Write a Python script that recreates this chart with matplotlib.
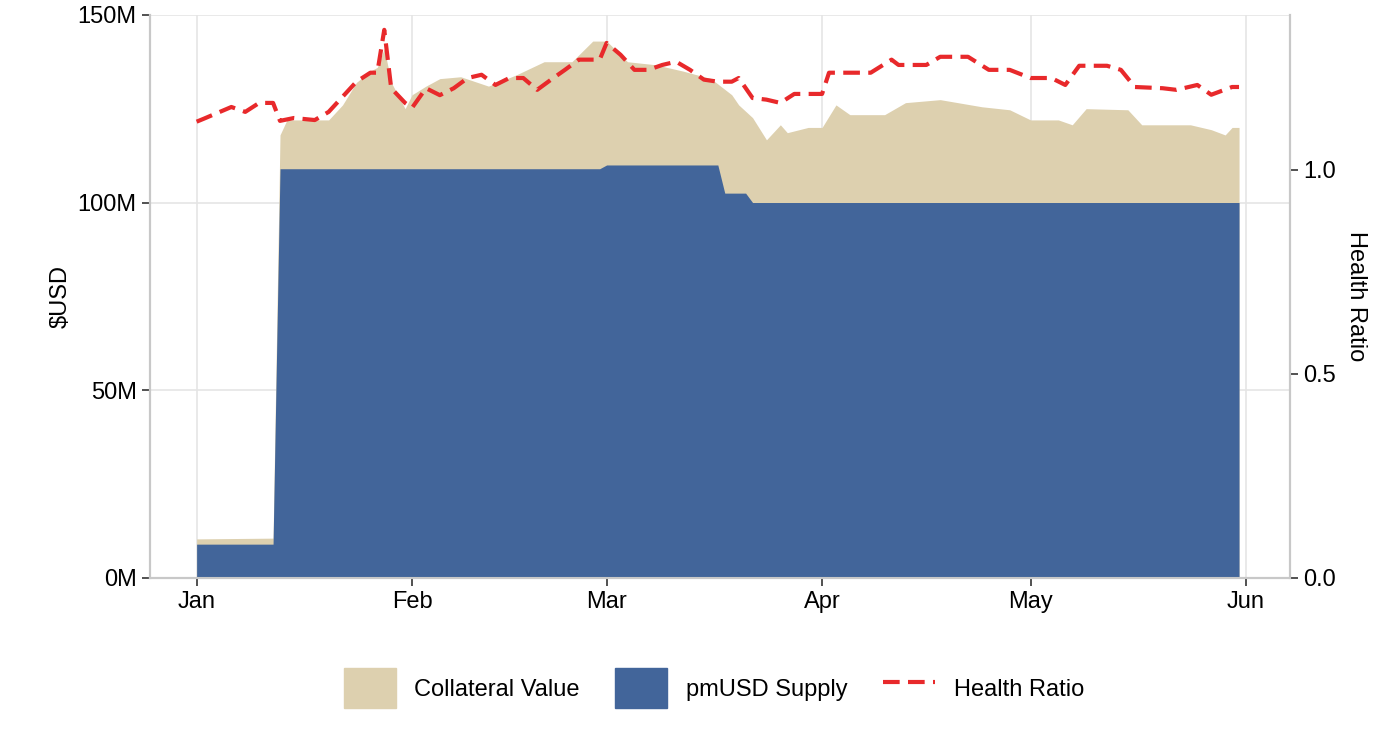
import matplotlib
matplotlib.use("Agg")
import matplotlib.pyplot as plt
import matplotlib.dates as mdates
import pandas as pd
from matplotlib.patches import Patch
from matplotlib.lines import Line2D

plt.rcParams['font.family'] = ['Liberation Sans', 'DejaVu Sans']

coll_dates = ["2025-01-01","2025-01-12","2025-01-13","2025-01-14","2025-01-20","2025-01-22","2025-01-24","2025-01-26","2025-01-27","2025-01-28","2025-01-29","2025-01-31","2025-02-01","2025-02-03","2025-02-05","2025-02-08","2025-02-12","2025-02-16","2025-02-20","2025-02-24","2025-02-27","2025-03-01","2025-03-04","2025-03-08","2025-03-12","2025-03-16","2025-03-19","2025-03-20","2025-03-22","2025-03-24","2025-03-26","2025-03-27","2025-03-30","2025-04-01","2025-04-03","2025-04-05","2025-04-10","2025-04-13","2025-04-18","2025-04-24","2025-04-28","2025-05-01","2025-05-05","2025-05-07","2025-05-09","2025-05-15","2025-05-17","2025-05-24","2025-05-27","2025-05-29","2025-05-30","2025-05-31"]
coll_vals = [10.4,10.6,118,122,122,126,132,135,136,141,132,125,128.7,131,133,133.5,131,134,137.5,137.5,143,143,137.5,136.7,135,133,128.7,126,122.6,116.7,120.7,118.6,120,120,126,123.4,123.4,126.6,127.4,125.5,124.7,122,122,120.7,125,124.7,120.7,120.7,119.4,118,120,120]

sup_dates = ["2025-01-01","2025-01-12","2025-01-13","2025-02-28","2025-03-01","2025-03-17","2025-03-18","2025-03-21","2025-03-22","2025-05-31"]
sup_vals = [9,9,109,109,110,110,102.5,102.5,100,100]

hr_dates = ["2025-01-01","2025-01-02","2025-01-06","2025-01-08","2025-01-10","2025-01-12","2025-01-13","2025-01-15","2025-01-18","2025-01-20","2025-01-22","2025-01-24","2025-01-26","2025-01-27","2025-01-28","2025-01-29","2025-01-31","2025-02-01","2025-02-03","2025-02-05","2025-02-07","2025-02-09","2025-02-11","2025-02-13","2025-02-15","2025-02-17","2025-02-19","2025-02-21","2025-02-23","2025-02-25","2025-02-28","2025-03-01","2025-03-03","2025-03-05","2025-03-07","2025-03-09","2025-03-11","2025-03-13","2025-03-15","2025-03-17","2025-03-19","2025-03-20","2025-03-22","2025-03-24","2025-03-26","2025-03-28","2025-04-01","2025-04-02","2025-04-08","2025-04-11","2025-04-12","2025-04-16","2025-04-18","2025-04-22","2025-04-25","2025-04-28","2025-05-01","2025-05-04","2025-05-06","2025-05-08","2025-05-12","2025-05-14","2025-05-16","2025-05-20","2025-05-22","2025-05-25","2025-05-27","2025-05-30","2025-05-31"]
hr_vals = [1.118,1.125,1.154,1.142,1.164,1.164,1.12,1.127,1.122,1.142,1.179,1.216,1.238,1.238,1.343,1.2,1.164,1.152,1.2,1.183,1.2,1.225,1.233,1.208,1.225,1.225,1.196,1.221,1.245,1.27,1.27,1.311,1.282,1.245,1.245,1.257,1.265,1.245,1.221,1.216,1.216,1.225,1.176,1.172,1.164,1.186,1.186,1.238,1.238,1.27,1.257,1.257,1.277,1.277,1.245,1.245,1.225,1.225,1.208,1.255,1.255,1.245,1.203,1.2,1.196,1.208,1.184,1.203,1.203]

beige = "#DDD0AF"
blue = "#42659A"
red = "#E8292B"

fig = plt.figure(figsize=(14, 7.4), dpi=100)
ax = fig.add_axes([150/1400, 0.219, 1140/1400, 0.761])
cd = pd.to_datetime(coll_dates); sd = pd.to_datetime(sup_dates); hd = pd.to_datetime(hr_dates)
ax.fill_between(cd, 0, coll_vals, color=beige, lw=0, zorder=2)
ax.fill_between(sd, 0, sup_vals, color=blue, lw=0, zorder=3)
ax.set_ylim(0, 150)
ax.set_xlim(pd.Timestamp("2024-12-25 07:00"), pd.Timestamp("2025-06-07 08:00"))
ax.set_yticks([0, 50, 100, 150])
ax.set_yticklabels(["0M", "50M", "100M", "150M"])
ax.xaxis.set_major_locator(mdates.MonthLocator())
ax.xaxis.set_major_formatter(mdates.DateFormatter("%b"))
ax.grid(True, color="#E5E5E5", lw=1.2, zorder=0)
ax.set_axisbelow(True)
ax.set_ylabel("$USD", fontsize=17)
for s in ["top"]:
    ax.spines[s].set_visible(False)
for s in ["left", "bottom", "right"]:
    ax.spines[s].set_color("#C8C8C8"); ax.spines[s].set_linewidth(1.5)
ax.tick_params(labelsize=17, color="#333333", length=6, width=1.2)

ax2 = ax.twinx()
ax2.plot(hd, hr_vals, color=red, lw=3, ls=(0, (4, 2)), zorder=5)
ax2.set_ylim(0, 563/408)
ax2.set_yticks([0, 0.5, 1.0])
ax2.set_yticklabels(["0.0", "0.5", "1.0"])
ax2.set_ylabel("Health Ratio", fontsize=17, rotation=270, labelpad=22)
ax2.spines["top"].set_visible(False)
for s in ["left", "bottom", "right"]:
    ax2.spines[s].set_color("#C8C8C8"); ax2.spines[s].set_linewidth(1.5)
ax2.tick_params(labelsize=17, color="#333333", length=6, width=1.2)

handles = [Patch(color=beige, label="Collateral Value"),
           Patch(color=blue, label="pmUSD Supply"),
           Line2D([], [], color=red, lw=3, ls=(0, (4, 2)), label="Health Ratio")]
fig.legend(handles=handles, loc="center", bbox_to_anchor=(0.51, 0.07), ncol=3,
           frameon=False, fontsize=17, handlelength=2.2, handleheight=2.2, columnspacing=1.5)
fig.savefig("out.png", dpi=100)
